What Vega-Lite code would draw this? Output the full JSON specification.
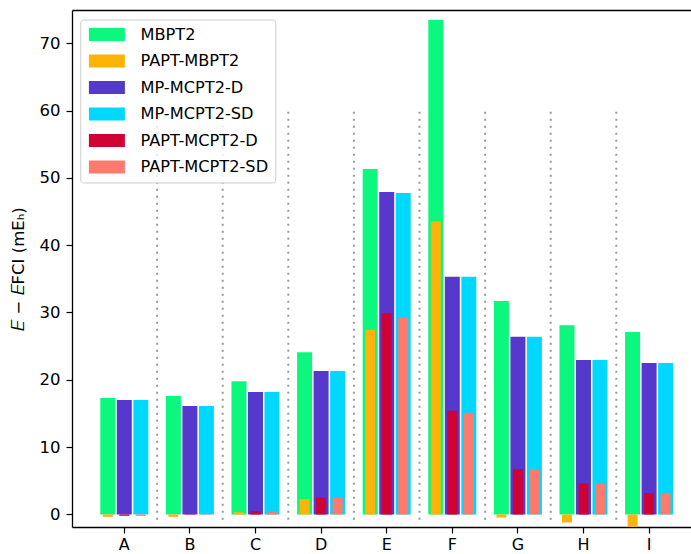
{
  "$schema": "https://vega.github.io/schema/vega-lite/v6.json",
  "autosize": {"type": "none"},
  "padding": {"left": 72, "top": 10, "right": 0, "bottom": 27},
  "width": 619,
  "height": 517,
  "config": {
    "view": {"stroke": null},
    "font": "DejaVu Sans",
    "axis": {
      "labelFont": "DejaVu Sans", "labelFontSize": 16.5, "labelColor": "black",
      "tickColor": "black", "domainColor": "black", "tickSize": 6, "tickWidth": 1.2, "domainWidth": 1.3,
      "titleFont": "DejaVu Sans", "titleFontSize": 16.5, "titleFontWeight": "normal", "titleColor": "black",
      "grid": false
    }
  },
  "datasets": {
    "energies": [
      {"cat": "A", "method": "MBPT2", "family": "MBPT2", "partitioning": "MP", "value": 17.3},
      {"cat": "A", "method": "PAPT-MBPT2", "family": "MBPT2", "partitioning": "PAPT", "value": -0.35},
      {"cat": "A", "method": "MP-MCPT2-D", "family": "MCPT2-D", "partitioning": "MP", "value": 17.0},
      {"cat": "A", "method": "MP-MCPT2-SD", "family": "MCPT2-SD", "partitioning": "MP", "value": 17.0},
      {"cat": "A", "method": "PAPT-MCPT2-D", "family": "MCPT2-D", "partitioning": "PAPT", "value": -0.2},
      {"cat": "A", "method": "PAPT-MCPT2-SD", "family": "MCPT2-SD", "partitioning": "PAPT", "value": -0.2},
      {"cat": "B", "method": "MBPT2", "family": "MBPT2", "partitioning": "MP", "value": 17.6},
      {"cat": "B", "method": "PAPT-MBPT2", "family": "MBPT2", "partitioning": "PAPT", "value": -0.35},
      {"cat": "B", "method": "MP-MCPT2-D", "family": "MCPT2-D", "partitioning": "MP", "value": 16.1},
      {"cat": "B", "method": "MP-MCPT2-SD", "family": "MCPT2-SD", "partitioning": "MP", "value": 16.1},
      {"cat": "B", "method": "PAPT-MCPT2-D", "family": "MCPT2-D", "partitioning": "PAPT", "value": -0.05},
      {"cat": "B", "method": "PAPT-MCPT2-SD", "family": "MCPT2-SD", "partitioning": "PAPT", "value": -0.05},
      {"cat": "C", "method": "MBPT2", "family": "MBPT2", "partitioning": "MP", "value": 19.8},
      {"cat": "C", "method": "PAPT-MBPT2", "family": "MBPT2", "partitioning": "PAPT", "value": 0.35},
      {"cat": "C", "method": "MP-MCPT2-D", "family": "MCPT2-D", "partitioning": "MP", "value": 18.2},
      {"cat": "C", "method": "MP-MCPT2-SD", "family": "MCPT2-SD", "partitioning": "MP", "value": 18.2},
      {"cat": "C", "method": "PAPT-MCPT2-D", "family": "MCPT2-D", "partitioning": "PAPT", "value": 0.5},
      {"cat": "C", "method": "PAPT-MCPT2-SD", "family": "MCPT2-SD", "partitioning": "PAPT", "value": 0.45},
      {"cat": "D", "method": "MBPT2", "family": "MBPT2", "partitioning": "MP", "value": 24.1},
      {"cat": "D", "method": "PAPT-MBPT2", "family": "MBPT2", "partitioning": "PAPT", "value": 2.3},
      {"cat": "D", "method": "MP-MCPT2-D", "family": "MCPT2-D", "partitioning": "MP", "value": 21.3},
      {"cat": "D", "method": "MP-MCPT2-SD", "family": "MCPT2-SD", "partitioning": "MP", "value": 21.3},
      {"cat": "D", "method": "PAPT-MCPT2-D", "family": "MCPT2-D", "partitioning": "PAPT", "value": 2.5},
      {"cat": "D", "method": "PAPT-MCPT2-SD", "family": "MCPT2-SD", "partitioning": "PAPT", "value": 2.5},
      {"cat": "E", "method": "MBPT2", "family": "MBPT2", "partitioning": "MP", "value": 51.3},
      {"cat": "E", "method": "PAPT-MBPT2", "family": "MBPT2", "partitioning": "PAPT", "value": 27.45},
      {"cat": "E", "method": "MP-MCPT2-D", "family": "MCPT2-D", "partitioning": "MP", "value": 47.9},
      {"cat": "E", "method": "MP-MCPT2-SD", "family": "MCPT2-SD", "partitioning": "MP", "value": 47.75},
      {"cat": "E", "method": "PAPT-MCPT2-D", "family": "MCPT2-D", "partitioning": "PAPT", "value": 29.9},
      {"cat": "E", "method": "PAPT-MCPT2-SD", "family": "MCPT2-SD", "partitioning": "PAPT", "value": 29.3},
      {"cat": "F", "method": "MBPT2", "family": "MBPT2", "partitioning": "MP", "value": 73.45},
      {"cat": "F", "method": "PAPT-MBPT2", "family": "MBPT2", "partitioning": "PAPT", "value": 43.5},
      {"cat": "F", "method": "MP-MCPT2-D", "family": "MCPT2-D", "partitioning": "MP", "value": 35.3},
      {"cat": "F", "method": "MP-MCPT2-SD", "family": "MCPT2-SD", "partitioning": "MP", "value": 35.3},
      {"cat": "F", "method": "PAPT-MCPT2-D", "family": "MCPT2-D", "partitioning": "PAPT", "value": 15.4},
      {"cat": "F", "method": "PAPT-MCPT2-SD", "family": "MCPT2-SD", "partitioning": "PAPT", "value": 15.1},
      {"cat": "G", "method": "MBPT2", "family": "MBPT2", "partitioning": "MP", "value": 31.7},
      {"cat": "G", "method": "PAPT-MBPT2", "family": "MBPT2", "partitioning": "PAPT", "value": -0.45},
      {"cat": "G", "method": "MP-MCPT2-D", "family": "MCPT2-D", "partitioning": "MP", "value": 26.4},
      {"cat": "G", "method": "MP-MCPT2-SD", "family": "MCPT2-SD", "partitioning": "MP", "value": 26.4},
      {"cat": "G", "method": "PAPT-MCPT2-D", "family": "MCPT2-D", "partitioning": "PAPT", "value": 6.75},
      {"cat": "G", "method": "PAPT-MCPT2-SD", "family": "MCPT2-SD", "partitioning": "PAPT", "value": 6.75},
      {"cat": "H", "method": "MBPT2", "family": "MBPT2", "partitioning": "MP", "value": 28.1},
      {"cat": "H", "method": "PAPT-MBPT2", "family": "MBPT2", "partitioning": "PAPT", "value": -1.2},
      {"cat": "H", "method": "MP-MCPT2-D", "family": "MCPT2-D", "partitioning": "MP", "value": 22.95},
      {"cat": "H", "method": "MP-MCPT2-SD", "family": "MCPT2-SD", "partitioning": "MP", "value": 22.95},
      {"cat": "H", "method": "PAPT-MCPT2-D", "family": "MCPT2-D", "partitioning": "PAPT", "value": 4.6},
      {"cat": "H", "method": "PAPT-MCPT2-SD", "family": "MCPT2-SD", "partitioning": "PAPT", "value": 4.6},
      {"cat": "I", "method": "MBPT2", "family": "MBPT2", "partitioning": "MP", "value": 27.1},
      {"cat": "I", "method": "PAPT-MBPT2", "family": "MBPT2", "partitioning": "PAPT", "value": -1.85},
      {"cat": "I", "method": "MP-MCPT2-D", "family": "MCPT2-D", "partitioning": "MP", "value": 22.5},
      {"cat": "I", "method": "MP-MCPT2-SD", "family": "MCPT2-SD", "partitioning": "MP", "value": 22.5},
      {"cat": "I", "method": "PAPT-MCPT2-D", "family": "MCPT2-D", "partitioning": "PAPT", "value": 3.2},
      {"cat": "I", "method": "PAPT-MCPT2-SD", "family": "MCPT2-SD", "partitioning": "PAPT", "value": 3.2}
    ],
    "separators": [
      {"cat": "A"}, {"cat": "B"}, {"cat": "C"}, {"cat": "D"},
      {"cat": "E"}, {"cat": "F"}, {"cat": "G"}, {"cat": "H"}
    ]
  },
  "resolve": {"axis": {"x": "independent"}},
  "layer": [
    {
      "data": {"name": "separators"},
      "mark": {"type": "rule", "color": "#9a9a9a", "strokeWidth": 2, "strokeDash": [2, 5]},
      "encoding": {
        "x": {
          "field": "cat", "type": "nominal", "bandPosition": 1,
          "scale": {"domain": ["A","B","C","D","E","F","G","H","I"], "paddingInner": 0, "paddingOuter": 0.218, "align": 0.682},
          "axis": {"orient": "top", "labels": false, "ticks": false, "domain": true, "title": null}
        },
        "y": {"datum": -0.8, "type": "quantitative"},
        "y2": {"datum": 60}
      }
    },
    {
      "data": {"name": "energies"},
      "transform": [{"filter": "datum.partitioning === 'MP'"}],
      "mark": {"type": "bar"},
      "encoding": {
        "x": {
          "field": "cat", "type": "nominal",
          "axis": {"orient": "bottom", "title": null, "labelAngle": 0, "labelPadding": 3.5, "labelFontSize": 16}
        },
        "xOffset": {
          "field": "family", "type": "nominal",
          "scale": {"domain": ["MBPT2", "MCPT2-D", "MCPT2-SD"], "paddingInner": 0.091, "paddingOuter": 0.533}
        },
        "y": {
          "field": "value", "type": "quantitative", "stack": null,
          "scale": {"domain": [-1.86, 74.93], "nice": false, "zero": false},
          "axis": {"values": [0,10,20,30,40,50,60,70], "title": "𝐸 − 𝐸FCI (mEₕ)", "titlePadding": 12.5, "labelPadding": 6}
        },
        "color": {
          "field": "method", "type": "nominal",
          "scale": {
            "domain": ["MBPT2", "PAPT-MBPT2", "MP-MCPT2-D", "MP-MCPT2-SD", "PAPT-MCPT2-D", "PAPT-MCPT2-SD"],
            "range": ["#0bf77d", "#feb308", "#5539cc", "#00d8ff", "#cf0234", "#ff796c"]
          },
          "legend": {
            "title": null, "orient": "none", "legendX": 8.3, "legendY": 9.5,
            "padding": 7, "symbolType": "M-1,-1H4.538V1H-1Z", "symbolSize": 169,
            "symbolStrokeWidth": 0, "symbolOpacity": 1, "labelOffset": 37, "rowPadding": 9.5,
            "labelFont": "DejaVu Sans", "labelFontSize": 16.2, "labelColor": "black",
            "fillColor": "rgba(255,255,255,0.8)", "strokeColor": "#cccccc", "cornerRadius": 3
          }
        }
      }
    },
    {
      "data": {"name": "energies"},
      "transform": [{"filter": "datum.partitioning === 'PAPT'"}],
      "mark": {"type": "bar", "width": 10},
      "encoding": {
        "x": {"field": "cat", "type": "nominal", "axis": null},
        "xOffset": {"field": "family", "type": "nominal"},
        "y": {"field": "value", "type": "quantitative", "stack": null},
        "color": {"field": "method", "type": "nominal"}
      }
    }
  ]
}
